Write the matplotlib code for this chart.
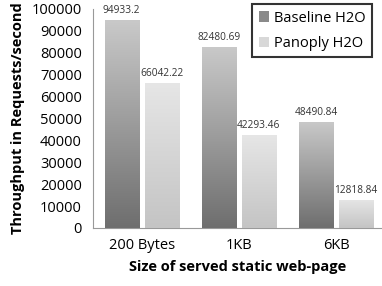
import matplotlib
matplotlib.use("Agg")
import matplotlib.pyplot as plt
import numpy as np
from matplotlib.colors import LinearSegmentedColormap
from matplotlib.patches import Patch

categories = ["200 Bytes", "1KB", "6KB"]
baseline = [94933.2, 82480.69, 48490.84]
panoply = [66042.22, 42293.46, 12818.84]
series_names = ["Baseline H2O", "Panoply H2O"]
yticks = [0, 10000, 20000, 30000, 40000, 50000, 60000, 70000, 80000, 90000, 100000]

plt.rcParams['font.family'] = ['Open Sans', 'DejaVu Sans']

fig = plt.figure(figsize=(3.82, 2.86), dpi=100)
ax = fig.add_axes([0.2435, 0.203, 0.7565, 0.766])

x = np.arange(len(categories))
w = 0.35
off = 0.205

b1 = ax.bar(x - off, baseline, w, color="#a0a0a0", zorder=2)
b2 = ax.bar(x + off, panoply, w, color="#d8d8d8", zorder=2)

grad = np.linspace(0, 1, 256).reshape(-1, 1)
cm1 = LinearSegmentedColormap.from_list("b", ["#6e6e6e", "#c9c9c9"])
cm2 = LinearSegmentedColormap.from_list("p", ["#c4c4c4", "#e6e6e6"])
for bars, cm in ((b1, cm1), (b2, cm2)):
    for r in bars:
        x0, y0 = r.get_x(), r.get_y()
        x1, y1 = x0 + r.get_width(), y0 + r.get_height()
        im = ax.imshow(grad, extent=[x0, x1, y0, y1], origin="lower", aspect="auto",
                       cmap=cm, zorder=3)
        im.set_clip_path(r)

for xi, v in zip(x - off, baseline):
    ax.text(xi, v + 1800, f"{v}", ha="center", va="bottom", fontsize=7.3, color="#333333")
for xi, v in zip(x + off, panoply):
    ax.text(xi, v + 1800, f"{v:.2f}", ha="center", va="bottom", fontsize=7.3, color="#333333")

ax.set_xlim(-0.5, 2.47)
ax.set_ylim(0, 100000)
ax.set_yticks(yticks)
ax.set_yticklabels([str(t) for t in yticks], fontsize=10.5)
ax.set_xticks(x)
ax.set_xticklabels(categories, fontsize=10.5)
ax.tick_params(axis="both", length=0)
ax.tick_params(axis="y", pad=8)
ax.tick_params(axis="x", pad=7)
ax.set_ylabel("Throughput in Requests/second", fontsize=10.5, fontweight="bold", labelpad=5)
ax.set_xlabel("Size of served static web-page", fontsize=10.5, fontweight="bold", labelpad=5)

for s in ("top", "right"):
    ax.spines[s].set_visible(False)
ax.spines["left"].set_color("#999999")
ax.spines["bottom"].set_color("#999999")

handles = [Patch(facecolor="#8a8a8a"), Patch(facecolor="#d8d8d8")]
leg = ax.legend(handles, series_names, loc="upper right", bbox_to_anchor=(0.99, 1.055),
                fontsize=10.5, frameon=True, fancybox=False, handlelength=0.7, handleheight=0.7,
                handletextpad=0.3, borderpad=0.45, labelspacing=0.7)
leg.get_frame().set_edgecolor("black")
leg.get_frame().set_linewidth(1.5)

fig.savefig("out.png", dpi=100)
